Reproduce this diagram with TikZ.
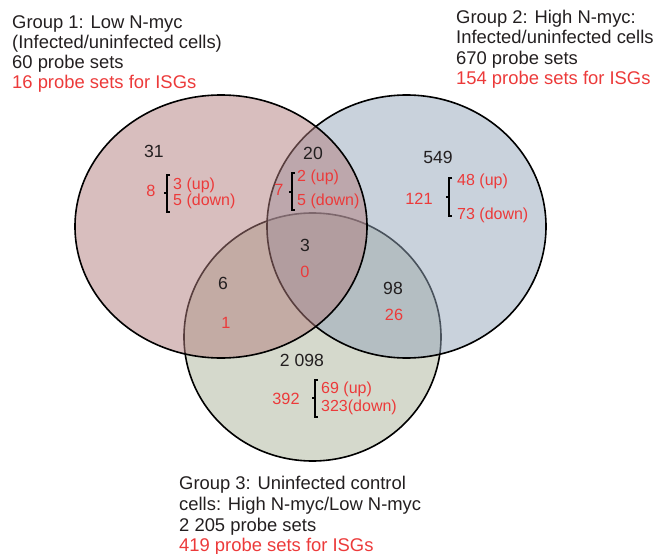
\documentclass[tikz,border=0pt]{standalone}
\usepackage{fontspec}
\setmainfont{Liberation Sans}
\definecolor{cone}{RGB}{177,125,125}
\definecolor{ctwo}{RGB}{147,165,185}
\definecolor{cthree}{RGB}{171,179,153}
\definecolor{txtred}{RGB}{236,58,58}
\definecolor{txtblk}{RGB}{35,31,32}
\tikzset{
  setfill/.style={fill=#1, fill opacity=0.5, draw=black, draw opacity=1, line width=1.6pt},
  title/.style={anchor=base west, inner sep=0pt, text=txtblk, font=\fontsize{18.4}{20}\selectfont},
  titlered/.style={title, text=txtred},
  bignum/.style={inner sep=0pt, text=txtblk, font=\fontsize{17.6}{20}\selectfont},
  rednum/.style={inner sep=0pt, text=txtred, font=\fontsize{16.3}{19}\selectfont},
  lab/.style={anchor=west, inner sep=0pt, text=txtred, font=\fontsize{16}{18}\selectfont},
  brk/.style={draw=black, line width=1.8pt, line cap=butt, line join=miter}
}
\begin{document}
\begin{tikzpicture}[x=1pt,y=-1pt]
\useasboundingbox (0,0) rectangle (659,554);
% sets (drawn bottom to top)
\path[setfill=cthree] (312.5,337) ellipse [x radius=128.5, y radius=124];
\path[setfill=ctwo] (406.5,226.5) ellipse [x radius=139.5, y radius=131.5];
\path[setfill=cone] (221,226.5) ellipse [x radius=146, y radius=131.5];

% group titles
\node[title] (g1a) at (12,28) {Group 1: Low N-myc};
\node[title] (g1b) at (12,48.3) {(Infected/uninfected cells)};
\node[title] (g1c) at (12,68.5) {60 probe sets};
\node[titlered] (g1d) at (12,88.7) {16 probe sets for ISGs};

\node[title] (g2a) at (456,23.3) {Group 2: High N-myc:};
\node[title] (g2b) at (456,43.6) {Infected/uninfected cells};
\node[title] (g2c) at (456,64) {670 probe sets};
\node[titlered] (g2d) at (456,84.3) {154 probe sets for ISGs};

\node[title] (g3a) at (179,489.5) {Group 3: Uninfected control};
\node[title] (g3b) at (179,510) {cells: High N-myc/Low N-myc};
\node[title] (g3c) at (179,531) {2 205 probe sets};
\node[titlered] (g3d) at (179,551.5) {419 probe sets for ISGs};

% region 1 only
\node[bignum] (n31) at (154,151) {31};
\node[rednum] (r8) at (151,191) {8};
\draw[brk] (170,175) -- (167,175) -- (167,212) -- (170,212);
\draw[brk] (167,193) -- (163.5,193);
\node[lab] (l1u) at (173,185) {3 (up)};
\node[lab] (l1d) at (173,201) {5 (down)};

% region 1 and 2
\node[bignum] (n20) at (313,153) {20};
\node[rednum] (r7) at (279,190) {7};
\draw[brk] (295,173) -- (292,173) -- (292,210) -- (295,210);
\draw[brk] (292,192) -- (288.5,192);
\node[lab] (l12u) at (297,177) {2 (up)};
\node[lab] (l12d) at (297,201) {5 (down)};

% region 2 only
\node[bignum] (n549) at (438,157) {549};
\node[rednum] (r121) at (419,199) {121};
\draw[brk] (452,178) -- (449,178) -- (449,216) -- (452,216);
\draw[brk] (449,197) -- (445.5,197);
\node[lab] (l2u) at (457,181) {48 (up)};
\node[lab] (l2d) at (457,215) {73 (down)};

% centre
\node[bignum] (n3) at (305,245) {3};
\node[rednum] (r0) at (305,272) {0};
\node[bignum] (n6) at (223,283) {6};
\node[rednum] (r1) at (226,323) {1};
\node[bignum] (n98) at (393,288) {98};
\node[rednum] (r26) at (394,315) {26};

% region 3 only
\node[bignum] (n2098) at (302,360) {2 098};
\node[rednum] (r392) at (286,398.5) {392};
\draw[brk] (318,380) -- (315,380) -- (315,417) -- (318,417);
\draw[brk] (315,398) -- (311.5,398);
\node[lab] (l3u) at (321,389) {69 (up)};
\node[lab] (l3d) at (321,407) {323(down)};
\end{tikzpicture}
\end{document}
